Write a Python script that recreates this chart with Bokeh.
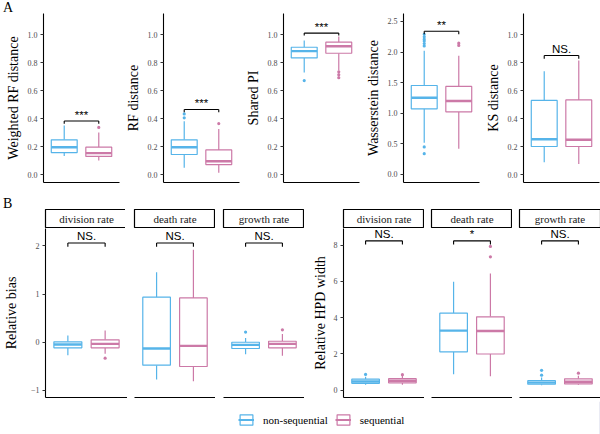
from bokeh.plotting import figure
from bokeh.layouts import row, column
from bokeh.models import (Range1d, FixedTicker, ColumnDataSource, Legend, LegendItem,
                          PrintfTickFormatter, Div)
from bokeh.core.properties import value
from bokeh.embed import file_html
from bokeh.resources import INLINE

groups = ["non-sequential", "sequential"]
colors = ["#56B4E9", "#CC79A7"]

# Box summaries per group: [lower whisker, q1, median, q3, upper whisker]
wrf_stats = [[0.133, 0.157, 0.195, 0.248, 0.350], [0.100, 0.129, 0.153, 0.195, 0.300]]
wrf_out = [[], [0.336]]

rf_stats = [[0.048, 0.143, 0.195, 0.248, 0.380], [0.012, 0.071, 0.095, 0.176, 0.325]]
rf_out = [[0.405, 0.433], [0.364]]

spi_stats = [[0.729, 0.833, 0.881, 0.909, 0.957], [0.743, 0.866, 0.916, 0.945, 0.985]]
spi_out = [[0.671], [0.734, 0.713, 0.692]]

wass_stats = [[0.52, 1.073, 1.253, 1.454, 2.02], [0.42, 1.024, 1.200, 1.438, 1.94]]
wass_out = [[2.10, 2.14, 2.18, 2.21, 2.25, 2.29, 0.45, 0.34], [2.108, 2.145]]

ks_stats = [[0.088, 0.200, 0.252, 0.529, 0.738], [0.076, 0.200, 0.248, 0.533, 0.814]]
ks_out = [[], []]

top_titles = ["Weighted RF distance", "RF distance", "Shared PI", "Wasserstein distance", "KS distance"]
top_sig = ["***", "***", "***", "**", "NS."]
top_sig_y = [0.382, 0.464, 1.010, 2.340, 0.850]
top_tip_y = [0.362, 0.444, 0.993, 2.290, 0.826]

rates = ["division rate", "death rate", "growth rate"]

bias_stats = [
    [[-0.27, -0.117, -0.048, 0.008, 0.14], [-0.24, -0.117, -0.034, 0.050, 0.243]],
    [[-0.774, -0.477, -0.130, 0.934, 1.45], [-0.81, -0.504, -0.075, 0.920, 1.92]],
    [[-0.25, -0.130, -0.055, 0.000, 0.09], [-0.28, -0.117, -0.034, 0.020, 0.17]],
]
bias_out = [[[], [-0.33]], [[], []], [[0.21], [0.257]]]
bias_sig = ["NS.", "NS.", "NS."]

hpd_stats = [
    [[0.30, 0.38, 0.48, 0.61, 0.74], [0.31, 0.41, 0.52, 0.64, 0.80]],
    [[0.88, 2.12, 3.29, 4.25, 5.98], [0.77, 2.00, 3.27, 4.05, 6.44]],
    [[0.28, 0.33, 0.42, 0.53, 0.70], [0.30, 0.35, 0.47, 0.63, 0.80]],
]
hpd_out = [[[0.87], [0.86]], [[], [7.36, 7.93]], [[0.83, 1.10], [0.94]]]
hpd_sig = ["NS.", "*", "NS."]

SERIF = "'Liberation Serif', serif"
SANS = "'Liberation Sans', sans-serif"
BOX_W = 0.75


def style_axes(p, ylab=None, ticks=None, label_standoff=4, fmt=None):
    p.grid.visible = False
    p.outline_line_color = None
    p.background_fill_color = "white"
    p.border_fill_color = "white"
    for ax in p.xaxis:
        ax.ticker = FixedTicker(ticks=[])
        ax.major_tick_line_color = None
        ax.minor_tick_line_color = None
        ax.axis_line_color = "black"
        ax.axis_line_width = 1.1
    for ax in p.yaxis:
        ax.ticker = FixedTicker(ticks=ticks)
        if fmt:
            ax.formatter = PrintfTickFormatter(format=fmt)
        ax.minor_tick_line_color = None
        ax.major_tick_in = 0
        ax.major_tick_out = 3
        ax.major_tick_line_color = "#333333"
        ax.axis_line_color = "black"
        ax.axis_line_width = 1.1
        ax.major_label_standoff = 3
        ax.major_label_text_font = SERIF
        ax.major_label_text_font_size = "8px"
        ax.major_label_text_color = "#4D4D4D"
        ax.axis_label = ylab
        ax.axis_label_text_font = SERIF
        ax.axis_label_text_font_style = "normal"
        ax.axis_label_text_font_size = "14px"
        ax.axis_label_text_color = "black"
        ax.axis_label_standoff = label_standoff


def draw_boxes(p, stats, outs):
    for i, (s, o) in enumerate(zip(stats, outs)):
        x = i + 1
        c = colors[i]
        src = ColumnDataSource(dict(x=[x], lo=[s[0]], q1=[s[1]], med=[s[2]], q3=[s[3]], hi=[s[4]],
                                    x0=[x - BOX_W / 2], x1=[x + BOX_W / 2]))
        p.segment(x0="x", y0="q3", x1="x", y1="hi", source=src, line_color=c, line_width=1.2)
        p.segment(x0="x", y0="lo", x1="x", y1="q1", source=src, line_color=c, line_width=1.2)
        p.vbar(x="x", width=BOX_W, bottom="q1", top="q3", source=src,
               fill_color="white", line_color=c, line_width=1.2)
        p.segment(x0="x0", y0="med", x1="x1", y1="med", source=src, line_color=c, line_width=2.4)
        if o:
            p.scatter(x=[x] * len(o), y=o, size=3.2, color=c, line_width=0)


def bracket(p, y, tip, label):
    p.segment(x0=[1, 1, 2], y0=[tip, y, tip], x1=[1, 2, 2], y1=[y, y, y],
              line_color="black", line_width=1.1)
    p.text(x=[1.5], y=[y], text=[label], text_align="center", text_baseline="alphabetic",
           y_offset=-6.5, text_font=value(SANS), text_font_size="11.5px", text_color="black")


def panel_letter(letter):
    html = ('<div style="font-family:\'Liberation Serif\',serif;font-size:14px;'
            'line-height:13px;padding-left:3px;color:black;">%s</div>' % letter)
    return Div(text=html, width=600, height=13, margin=0)


# ---- Row A: five metric panels ----
top_data = [(wrf_stats, wrf_out), (rf_stats, rf_out), (spi_stats, spi_out),
            (wass_stats, wass_out), (ks_stats, ks_out)]
top_figs = []
for k, (stats, outs) in enumerate(top_data):
    if k == 3:
        yr, ticks = (-0.131, 2.63), [0, 0.5, 1.0, 1.5, 2.0, 2.5]
    else:
        yr, ticks = (-0.057, 1.15), [0, 0.2, 0.4, 0.6, 0.8, 1.0]
    p = figure(frame_width=76, frame_height=169, min_border_left=43, min_border_right=1,
               min_border_top=0, min_border_bottom=14,
               x_range=Range1d(0.4, 2.6), y_range=Range1d(*yr),
               output_backend="svg", toolbar_location=None)
    style_axes(p, top_titles[k], ticks, fmt="%.1f")
    draw_boxes(p, stats, outs)
    bracket(p, top_sig_y[k], top_tip_y[k], top_sig[k])
    top_figs.append(p)


# ---- Row B: faceted panels ----
def facet(strip_text, border_left, frame_w, border_right, yr, stats, outs, sig, sig_y, tip_y,
          ylab=None, ticks=None, label_standoff=4):
    strip = figure(frame_width=frame_w, frame_height=19, min_border_left=border_left,
                   min_border_right=border_right, min_border_top=0, min_border_bottom=0,
                   x_range=Range1d(0, 1), y_range=Range1d(0, 1),
                   x_axis_location=None, y_axis_location=None,
                   output_backend="svg", toolbar_location=None)
    strip.grid.visible = False
    strip.outline_line_color = "black"
    strip.outline_line_width = 1.2
    strip.border_fill_color = "white"
    strip.text(x=[0.5], y=[0.5], text=[strip_text], text_align="center", text_baseline="middle",
               text_font=value(SERIF), text_font_size="11px", text_color="#1A1A1A")

    p = figure(frame_width=frame_w, frame_height=169, min_border_left=border_left,
               min_border_right=border_right, min_border_top=0, min_border_bottom=4,
               x_range=Range1d(0.4, 2.6), y_range=Range1d(*yr),
               y_axis_location="left" if ylab else None,
               output_backend="svg", toolbar_location=None)
    style_axes(p, ylab, ticks, label_standoff)
    draw_boxes(p, stats, outs)
    bracket(p, sig_y, tip_y, sig)
    return column(strip, p, spacing=0)


bias_yr = (-1.147, 2.36)
hpd_yr = (-0.40, 8.92)
left_geom = [(43, 82, 0), (7, 81, 0), (8, 81, 0)]
right_geom = [(39, 81, 0), (7, 81, 0), (7, 81, 2)]

bottom = []
for j in range(3):
    bl, fw, br = left_geom[j]
    bottom.append(facet(rates[j], bl, fw, br, bias_yr, bias_stats[j], bias_out[j],
                        bias_sig[j], 2.06, 1.98,
                        ylab="Relative bias" if j == 0 else None,
                        ticks=[-1, 0, 1, 2], label_standoff=9))
for j in range(3):
    bl, fw, br = right_geom[j]
    bottom.append(facet(rates[j], bl, fw, br, hpd_yr, hpd_stats[j], hpd_out[j],
                        hpd_sig[j], 8.24, 8.04,
                        ylab="Relative HPD width" if j == 0 else None,
                        ticks=[0, 2, 4, 6, 8], label_standoff=3))

# ---- Shared legend ----
leg = figure(width=600, height=33, min_border=0, x_range=Range1d(0, 1), y_range=Range1d(0, 1),
             x_axis_location=None, y_axis_location=None,
             output_backend="svg", toolbar_location=None)
leg.grid.visible = False
leg.outline_line_color = None
items = []
for i, g in enumerate(groups):
    vb = leg.vbar(x=[5], width=0.1, bottom=[0], top=[1], fill_color="white",
                  line_color=colors[i], line_width=1.2)
    md = leg.segment(x0=[5], y0=[0.5], x1=[6], y1=[0.5], line_color=colors[i], line_width=2)
    items.append(LegendItem(label=g, renderers=[vb, md]))
legend = Legend(items=items, orientation="horizontal", location=(238, 8),
                glyph_width=16, glyph_height=13, label_height=13, label_standoff=9, spacing=7,
                padding=0, margin=0, border_line_color=None, background_fill_alpha=0,
                label_text_font=SERIF, label_text_font_size="11px", label_text_color="black")
leg.add_layout(legend)

layout = column(panel_letter("A"), row(*top_figs, spacing=0), panel_letter("B"),
                row(*bottom, spacing=0), leg, spacing=0)

open("out.html", "w").write(file_html(layout, INLINE))
